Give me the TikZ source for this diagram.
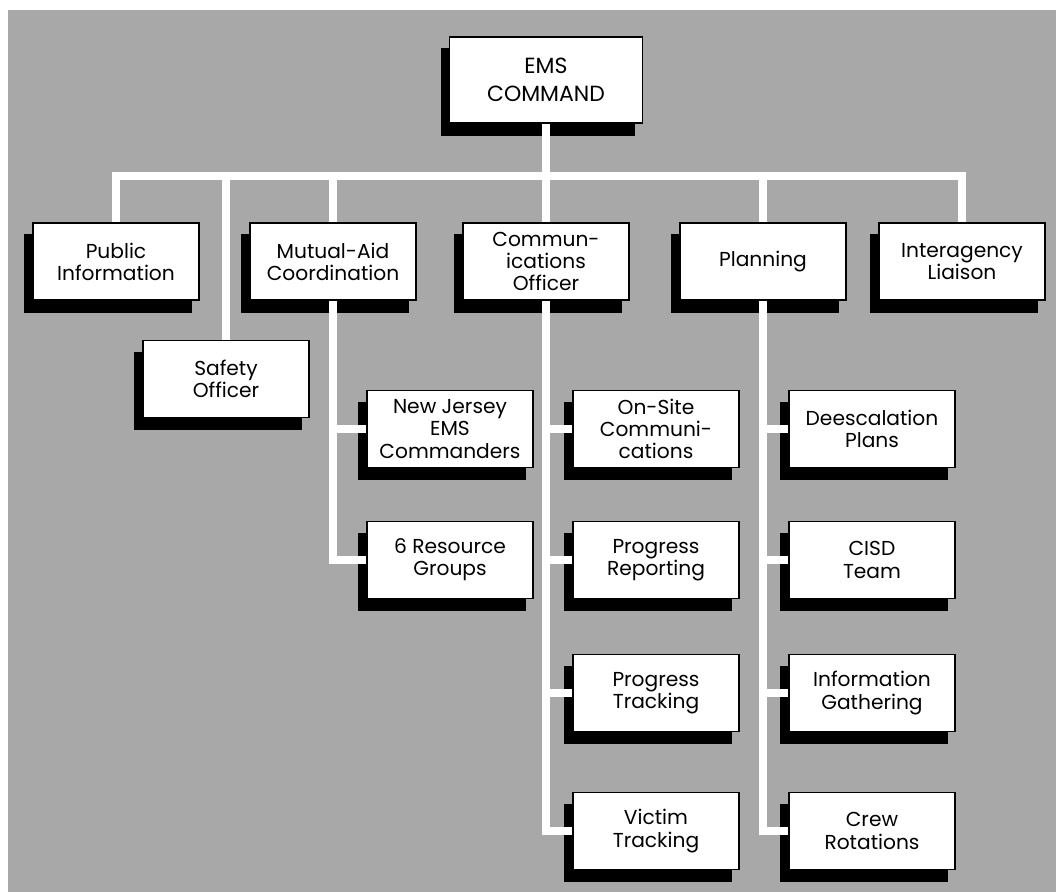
\documentclass[tikz,border=0pt]{standalone}
\usepackage{fontspec}
\setmainfont{Poppins}
\usetikzlibrary{backgrounds}

\definecolor{panelgray}{gray}{0.66}

\tikzset{
  orgbox/.style={draw=black, line width=0.9pt, fill=white, align=center,
    minimum width=3.32cm, minimum height=1.54cm, inner sep=1pt,
    font=\fontsize{11.5}{12.6}\selectfont},
  link/.style={draw=white, line width=4.4pt},
}

\begin{document}
\begin{tikzpicture}[x=0.02cm, y=-0.02cm]
\useasboundingbox (0,0) rectangle (1056,892);
\node[orgbox, minimum width=3.86cm, minimum height=1.72cm,
  font=\fontsize{12.5}{16}\selectfont] (cmd) at (546,80) {EMS\\COMMAND};
\node[orgbox] (pubinfo) at (116,261.5) {Public\\Information};
\node[orgbox] (mutaid) at (333,261.5) {Mutual-Aid\\Coordination};
\node[orgbox] (comms) at (546,261.5) {Commun-\\ications\\Officer};
\node[orgbox] (plan) at (763,261.5) {Planning};
\node[orgbox] (liaison) at (962,261.5) {Interagency\\Liaison};
\node[orgbox] (safety) at (226,379) {Safety\\Officer};
\node[orgbox] (njems) at (450,429) {New Jersey\\EMS\\Commanders};
\node[orgbox] (resgrp) at (450,560) {6 Resource\\Groups};
\node[orgbox] (onsite) at (656,429) {On-Site\\Communi-\\cations};
\node[orgbox] (progrep) at (656,560) {Progress\\Reporting};
\node[orgbox] (progtrk) at (656,693) {Progress\\Tracking};
\node[orgbox] (victim) at (656,831) {Victim\\Tracking};
\node[orgbox] (deesc) at (872,429) {Deescalation\\Plans};
\node[orgbox] (cisd) at (872,560) {CISD\\Team};
\node[orgbox] (infogath) at (872,693) {Information\\Gathering};
\node[orgbox] (crew) at (872,831) {Crew\\Rotations};
\coordinate (bar) at (546,176);
\begin{scope}[on background layer]
\fill[panelgray] (8,10) rectangle (1056,892);
\foreach \n in {cmd,pubinfo,mutaid,comms,plan,liaison,safety,njems,resgrp,
  onsite,progrep,progtrk,victim,deesc,cisd,infogath,crew}
  \fill[black] ([shift={(-8,12)}]\n.south west) rectangle ([shift={(-8,12)}]\n.north east);
\draw[link] (cmd.south) -- (bar);
\draw[link] (pubinfo.north) |- (bar) -| (liaison.north);
\draw[link] (safety.north) -- (safety.north |- bar);
\draw[link] (mutaid.north) -- (mutaid.north |- bar);
\draw[link] (comms.north) -- (comms.north |- bar);
\draw[link] (plan.north) -- (plan.north |- bar);
\draw[link] (mutaid.south) |- (resgrp.west);
\draw[link] (njems.west) -- (njems.west -| mutaid.south);
\draw[link] (comms.south) |- (victim.west);
\draw[link] (onsite.west) -- (onsite.west -| comms.south);
\draw[link] (progrep.west) -- (progrep.west -| comms.south);
\draw[link] (progtrk.west) -- (progtrk.west -| comms.south);
\draw[link] (plan.south) |- (crew.west);
\draw[link] (deesc.west) -- (deesc.west -| plan.south);
\draw[link] (cisd.west) -- (cisd.west -| plan.south);
\draw[link] (infogath.west) -- (infogath.west -| plan.south);
\end{scope}
\end{tikzpicture}
\end{document}
